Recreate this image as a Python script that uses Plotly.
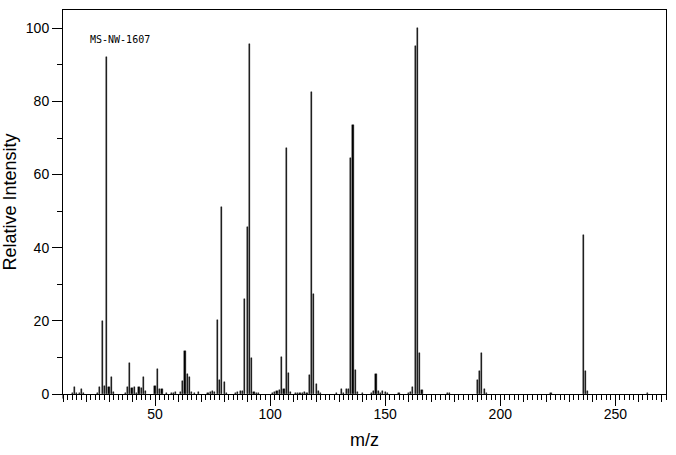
import plotly.graph_objects as go

mz = [14, 15, 16, 17, 18, 19, 25, 26, 27, 28, 29, 30, 31, 32, 37, 38, 39, 40, 41, 42,
      43, 44, 45, 46, 50, 51, 52, 53, 55, 57, 58, 59, 61, 62, 63, 64, 65, 66, 67, 69,
      73, 74, 75, 76, 77, 78, 79, 80, 81, 85, 86, 87, 88, 89, 90, 91, 92, 93, 94, 95,
      101, 102, 103, 104, 105, 106, 107, 108, 109, 111, 112, 113, 114, 115, 116, 117,
      118, 119, 120, 121, 122, 129, 131, 132, 133, 134, 135, 136, 137, 138, 140, 144,
      145, 146, 147, 148, 149, 150, 151, 156, 160, 161, 162, 163, 164, 165, 166, 177,
      178, 190, 191, 192, 193, 194, 222, 236, 237, 238, 264]
intensity = [0.4, 1.9, 0.3, 0.3, 1.4, 0.3, 0.4, 1.9, 19.9, 2.2, 92.2, 1.9, 4.7, 0.5, 0.3, 1.9, 8.5, 1.6, 1.9, 0.3,
             1.9, 1.6, 4.7, 0.8, 2.2, 6.8, 1.4, 1.4, 0.3, 0.3, 0.3, 0.5, 0.5, 3.6, 11.8, 5.5, 4.7, 0.5, 0.3, 0.5,
             0.3, 0.5, 0.8, 0.5, 20.1, 3.8, 51.0, 3.3, 0.3, 0.3, 0.5, 0.8, 0.8, 26.0, 45.6, 95.7, 9.9, 0.5, 0.3, 0.3,
             0.3, 0.5, 0.8, 1.1, 10.0, 1.4, 67.3, 5.7, 0.5, 0.3, 0.3, 0.3, 0.3, 0.5, 0.3, 5.2,
             82.6, 27.3, 2.8, 0.8, 0.3, 0.3, 1.4, 0.3, 1.4, 1.4, 64.5, 73.6, 6.7, 0.5, 0.3, 0.3,
             0.8, 5.6, 0.8, 0.3, 0.8, 0.5, 0.3, 0.3, 0.3, 0.5, 1.9, 95.2, 100.0, 11.1, 1.1, 0.3,
             0.3, 3.7, 6.4, 11.1, 1.4, 0.3, 0.3, 43.4, 6.4, 0.8, 0.3]

x_range = [10, 272]
y_range = [0, 105]
medium_ticks = list(range(10, 271, 10))
major_ticks = [50, 100, 150, 200, 250]
y_ticks = [0, 20, 40, 60, 80, 100]
label_text = "MS-NW-1607"

FONT = "Liberation Sans"

fig = go.Figure()
fig.add_trace(go.Bar(
    x=mz, y=intensity, width=0.5,
    marker=dict(color="black", line=dict(color="black", width=0.4)),
    showlegend=False, hoverinfo="x+y",
))
# helper trace so the overlaid long-tick axis is rendered
fig.add_trace(go.Scatter(x=mz[:1], y=[0], xaxis="x2", mode="markers",
                         marker=dict(opacity=0), showlegend=False, hoverinfo="skip"))

fig.update_layout(
    width=676, height=455,
    margin=dict(l=63, r=10, t=10, b=61),
    paper_bgcolor="white", plot_bgcolor="white",
    font=dict(family=FONT, color="black", size=14),
    bargap=0,
    xaxis=dict(
        range=x_range, showgrid=False, zeroline=False, automargin=False,
        showline=True, linecolor="black", linewidth=1, mirror=True,
        tickmode="array", tickvals=medium_ticks,
        ticktext=[str(v) if v % 50 == 0 else "" for v in medium_ticks],
        ticks="outside", ticklen=7, tickwidth=1, tickcolor="black",
        minor=dict(dtick=2, tick0=0, ticks="outside", ticklen=5, tickwidth=1, tickcolor="black", showgrid=False),
        tickfont=dict(size=14, family=FONT),
        title=dict(text="m/z", font=dict(size=18, family=FONT), standoff=12),
    ),
    xaxis2=dict(
        range=x_range, overlaying="x", anchor="y", side="bottom", automargin=False,
        showgrid=False, zeroline=False, showline=False,
        tickmode="array", tickvals=major_ticks, showticklabels=False,
        ticks="outside", ticklen=11, tickwidth=1, tickcolor="black",
    ),
    yaxis=dict(
        range=y_range, showgrid=False, zeroline=False, automargin=False,
        showline=True, linecolor="black", linewidth=1, mirror=True,
        tickmode="array", tickvals=y_ticks,
        ticks="outside", ticklen=10, tickwidth=1, tickcolor="black",
        minor=dict(dtick=10, tick0=0, ticks="outside", ticklen=5, tickwidth=1, tickcolor="black", showgrid=False),
        tickfont=dict(size=14, family=FONT),
        title=dict(text="Relative Intensity", font=dict(size=18, family=FONT), standoff=8),
    ),
    shapes=[dict(type="line", xref="paper", yref="paper", x0=0, x1=0, y0=0, y1=-0.012,
                 line=dict(color="black", width=1))],
    annotations=[dict(text=label_text, xref="paper", yref="paper", x=0.041, y=0.922,
                      xanchor="left", yanchor="middle", showarrow=False,
                      font=dict(family="DejaVu Sans Mono", size=10, color="black"))],
)

fig.write_html("out.html")
